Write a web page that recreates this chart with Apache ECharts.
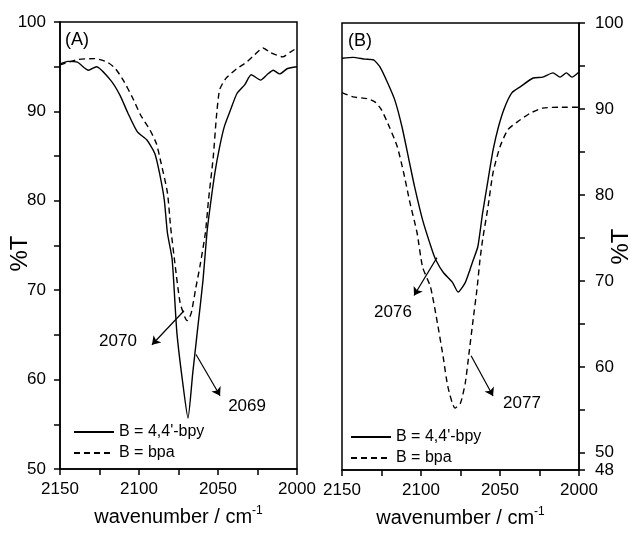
<!DOCTYPE html>
<html>
<head>
<meta charset="utf-8">
<script src="https://cdn.jsdelivr.net/npm/echarts@6/dist/echarts.min.js"></script>
<style>
  html, body { margin: 0; padding: 0; background: #fff; }
  #main { width: 630px; height: 533px; }
</style>
</head>
<body>
<div id="main"></div>
<script>
// panel (A): 4,4'-bpy (solid) and bpa (dashed)
const wnA_bpy = [2150, 2145, 2139, 2132, 2127, 2118, 2112, 2107, 2101, 2095, 2090, 2087, 2084, 2082, 2079, 2076, 2072, 2069, 2066, 2063, 2059.5, 2057, 2055, 2052, 2049, 2046, 2042, 2038, 2033, 2029, 2023, 2019, 2015, 2011, 2006, 2000]
const tA_bpy = [95.3, 95.6, 95.5, 94.6, 95.0, 93.5, 91.8, 89.8, 87.7, 86.8, 85.3, 83.1, 80.1, 76.4, 73.4, 65.2, 59.2, 55.7, 60.7, 65.5, 71.1, 76.4, 79.3, 83.1, 86.0, 88.3, 90.2, 92.0, 93.0, 94.1, 93.5, 94.1, 94.6, 94.2, 94.8, 95.0]
const wnA_bpa = [2150, 2139, 2128, 2120, 2115, 2110, 2104, 2099, 2093, 2089, 2086, 2082, 2080, 2077, 2074, 2071, 2069.5, 2067, 2064, 2061.5, 2058, 2056, 2053, 2051, 2049, 2045, 2038, 2032, 2027, 2021.5, 2017, 2009, 2004.5, 2000]
const tA_bpa = [95.2, 95.8, 95.9, 95.5, 94.8, 93.5, 91.5, 89.6, 87.9, 86.4, 84.2, 80.9, 77.1, 72.6, 68.6, 67.0, 66.6, 67.4, 70.3, 72.6, 76.4, 80.1, 84.9, 89.4, 92.4, 93.7, 94.8, 95.5, 96.3, 97.1, 96.6, 96.1, 96.6, 97.1]

// panel (B)
const wnB_bpy = [2150, 2143, 2135.5, 2130, 2126, 2121, 2116.5, 2112, 2108, 2104, 2099, 2093, 2090.5, 2086, 2080, 2076.5, 2072, 2069, 2067, 2064, 2061, 2057.6, 2054.4, 2051, 2047, 2042.4, 2037, 2029, 2023, 2016.5, 2012, 2008, 2004.5, 2000]
const tB_bpy = [95.9, 96.0, 95.8, 95.7, 94.9, 93.0, 91.0, 87.9, 84.4, 80.9, 77.1, 73.6, 72.4, 71.0, 69.8, 68.7, 69.8, 71.3, 72.4, 74.0, 77.9, 81.7, 85.2, 87.9, 90.2, 91.9, 92.6, 93.6, 93.7, 94.2, 93.7, 94.2, 93.7, 94.3]
const wnB_bpa = [2150, 2143, 2134, 2129, 2125, 2120, 2115, 2111, 2107, 2102.5, 2099, 2094, 2090, 2086, 2083, 2078.5, 2075, 2072, 2069.6, 2067, 2064.6, 2062.7, 2061, 2057.6, 2054.4, 2050, 2045, 2039, 2031, 2023, 2012, 2000]
const tB_bpa = [91.9, 91.4, 91.2, 90.8, 89.9, 87.9, 85.6, 82.6, 79.1, 75.6, 71.6, 69.3, 65.5, 61.2, 57.7, 55.2, 55.8, 58.1, 61.6, 65.5, 69.0, 72.4, 74.8, 78.6, 82.6, 85.6, 87.6, 88.5, 89.5, 90.1, 90.2, 90.2]

// peak annotations: arrow from -> to, label position
const arrowsA = [[[2071.5, 67.7], [2091.8, 63.9]], [[2063.9, 62.8], [2048.7, 58.2]]]
const labelsA = [[2113.3, 64.3, '2070'], [2031.6, 57.0, '2069']]
const arrowsB = [[[2089.9, 72.7], [2104.4, 68.3]], [[2068.3, 61.3], [2054.4, 56.6]]]
const labelsB = [[2117.7, 66.4, '2076'], [2036.1, 55.8, '2077']]

const yTicksB = [48, 50, 55, 60, 65, 70, 75, 80, 85, 90, 95, 100]
const yLabelsB = [48, 50, 60, 70, 80, 90, 100]

const FONT = 'Liberation Sans, Arial, sans-serif'
const NAME_SOLID = "B = 4,4'-bpy"
const NAME_DASH = 'B = bpa'

const zip = (xs, ys) => xs.map((x, i) => [x, ys[i]])

const axisLine = { lineStyle: { color: '#000', width: 1.5 } }
const plain = v => String(v)

function xAxis (gridIndex) {
  return {
    type: 'value', gridIndex, min: 2000, max: 2150, interval: 50, inverse: true,
    axisLine, splitLine: { show: false },
    axisTick: { length: 6, lineStyle: { color: '#000', width: 1.5 } },
    minorTick: { show: true, splitNumber: 2, length: 6, lineStyle: { color: '#000', width: 1.5 } },
    axisLabel: { color: '#000', fontSize: 17, fontFamily: FONT, margin: 12, formatter: plain },
    name: '{a|wavenumber / cm}{s|-1}',
    nameLocation: 'middle', nameGap: 36, nameMoveOverlap: false,
    nameTextStyle: {
      color: '#000', fontFamily: FONT,
      rich: {
        a: { fontSize: 20, fontFamily: FONT, color: '#000', lineHeight: 24 },
        s: { fontSize: 12, fontFamily: FONT, color: '#000', verticalAlign: 'top', lineHeight: 14 }
      }
    }
  }
}

function lineSeries (name, x, y, axisIdx, dashed, extra) {
  return Object.assign({
    type: 'line', name, xAxisIndex: axisIdx, yAxisIndex: axisIdx,
    data: zip(x, y), showSymbol: false, symbol: 'none', smooth: 0.2,
    lineStyle: { color: '#000', width: 1.4, type: dashed ? [6, 4] : 'solid' },
    itemStyle: { color: '#000' }, silent: true
  }, extra || {})
}

function arrowMark (arrows) {
  return {
    silent: true, symbol: ['none', 'arrow'], symbolSize: 8,
    label: { show: false },
    lineStyle: { color: '#000', width: 1.2, type: 'solid' },
    data: arrows.map(a => [{ coord: a[0] }, { coord: a[1] }])
  }
}

function labelSeries (labels, axisIdx) {
  return {
    type: 'scatter', xAxisIndex: axisIdx, yAxisIndex: axisIdx, silent: true,
    symbolSize: 1, itemStyle: { color: '#fff', opacity: 1 },
    data: labels,
    label: {
      show: true, position: 'inside', color: '#000', opacity: 1, fontSize: 17, fontFamily: FONT,
      textBorderWidth: 0, formatter: p => p.value[2]
    }
  }
}

const legendStyle = {
  orient: 'vertical', itemWidth: 40, itemHeight: 14, itemGap: 5, padding: 0,
  itemStyle: { opacity: 0 },
  textStyle: { color: '#000', fontSize: 16, fontFamily: FONT },
  data: [NAME_SOLID, NAME_DASH], selectedMode: false
}

const chart = echarts.init(document.getElementById('main'))

chart.setOption({
  backgroundColor: '#fff',
  animation: false,
  title: [
    { text: '(A)', left: 65, top: 31, padding: 0, textStyle: { fontSize: 18, fontWeight: 'normal', color: '#000', fontFamily: FONT } },
    { text: '(B)', left: 348, top: 32, padding: 0, textStyle: { fontSize: 18, fontWeight: 'normal', color: '#000', fontFamily: FONT } }
  ],
  legend: [
    Object.assign({ left: 73, top: 424 }, legendStyle),
    Object.assign({ left: 350, top: 429 }, legendStyle)
  ],
  grid: [
    { left: 60, top: 22, width: 237, height: 447, outerBoundsMode: 'none', show: true, borderColor: '#000', borderWidth: 1.5, backgroundColor: 'transparent' },
    { left: 342, top: 23, width: 237, height: 447, outerBoundsMode: 'none', show: true, borderColor: '#000', borderWidth: 1.5, backgroundColor: 'transparent' }
  ],
  xAxis: [xAxis(0), xAxis(1)],
  yAxis: [
    {
      type: 'value', gridIndex: 0, min: 50, max: 100, interval: 10,
      axisLine: Object.assign({ show: true }, axisLine), splitLine: { show: false },
      axisTick: { length: 6, lineStyle: { color: '#000', width: 1.5 } },
      minorTick: { show: true, splitNumber: 2, length: 6, lineStyle: { color: '#000', width: 1.5 } },
      axisLabel: { color: '#000', fontSize: 17, fontFamily: FONT, margin: 14 },
      name: '%T', nameLocation: 'middle', nameRotate: 90, nameMoveOverlap: false, nameGap: 28,
      nameTextStyle: { color: '#000', fontSize: 24, fontFamily: FONT, padding: [0, 16, 0, 0] }
    },
    {
      type: 'value', gridIndex: 1, min: 48, max: 100, position: 'right',
      axisLine: Object.assign({ show: true }, axisLine), splitLine: { show: false },
      axisTick: { length: 6, customValues: yTicksB, lineStyle: { color: '#000', width: 1.5 } },
      axisLabel: { color: '#000', fontSize: 17, fontFamily: FONT, margin: 16, customValues: yLabelsB },
      name: '%T', nameLocation: 'middle', nameRotate: 90, nameMoveOverlap: false, nameGap: 30,
      nameTextStyle: { color: '#000', fontSize: 24, fontFamily: FONT }
    }
  ],
  series: [
    lineSeries(NAME_SOLID, wnA_bpy, tA_bpy, 0, false, { markLine: arrowMark(arrowsA) }),
    lineSeries(NAME_DASH, wnA_bpa, tA_bpa, 0, true),
    labelSeries(labelsA, 0),
    lineSeries(NAME_SOLID, wnB_bpy, tB_bpy, 1, false, { markLine: arrowMark(arrowsB) }),
    lineSeries(NAME_DASH, wnB_bpa, tB_bpa, 1, true),
    labelSeries(labelsB, 1)
  ]
})
</script>
</body>
</html>
